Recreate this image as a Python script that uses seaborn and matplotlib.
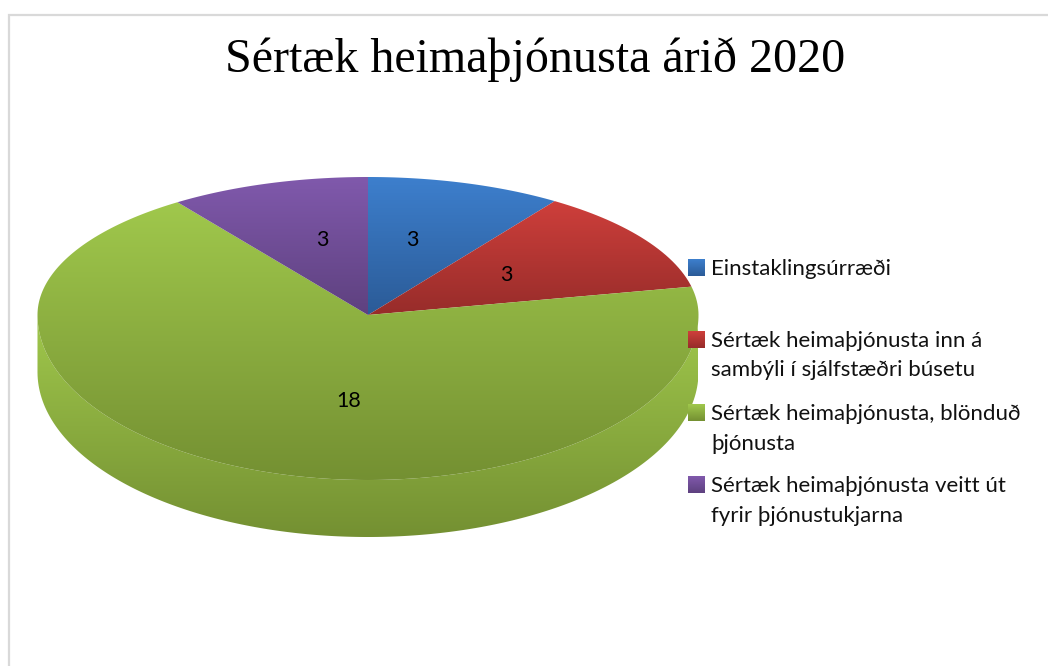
import numpy as np
import matplotlib
matplotlib.use("Agg")
import matplotlib.pyplot as plt
from matplotlib.patches import Polygon
from matplotlib.transforms import Affine2D
import seaborn as sns

# ---- data ----
title = "Sértæk heimaþjónusta árið 2020"
categories = [
    "Einstaklingsúrræði",
    "Sértæk heimaþjónusta inn á\nsambýli í sjálfstæðri búsetu",
    "Sértæk heimaþjónusta, blönduð\nþjónusta",
    "Sértæk heimaþjónusta veitt út\nfyrir þjónustukjarna",
]
values = [3, 3, 18, 3]

# ---- styles / layout (pixel space of the picture) ----
top_colors = ["#3D7FCD", "#CE3F3B", "#A0C84C", "#8059AC"]
bottom_colors = ["#2B5B97", "#972C2A", "#749032", "#5E417F"]
label_xy = [(412, 240), (506, 275), (349, 401), (322, 240)]
legend_y = [267, 339, 412, 484]
CX, CY, RX, RY_BACK, RY_FRONT, DEPTH = 368, 315, 330.5, 138, 165, 57
WARP_A = np.radians(5.28)
WARP_B = np.radians(0.41)

sns.set_theme(style="white")
plt.rcParams["font.family"] = ["Lato", "DejaVu Sans"]

W, H = 1048, 666
fig = plt.figure(figsize=(W / 100, H / 100), dpi=100, facecolor="white")
ax = fig.add_axes([0, 0, 1, 1])

cmaps = [sns.blend_palette([t, b], n_colors=128, as_cmap=True)
         for t, b in zip(top_colors, bottom_colors)]


def project(xy):
    """Tilted-disc projection of a unit pie into picture pixels."""
    r = np.hypot(xy[:, 0], xy[:, 1])
    th = np.arctan2(xy[:, 0], xy[:, 1])       # clockwise from 12 o'clock
    th = th - WARP_A * np.sin(2 * th) - WARP_B * np.sin(2 * th) ** 2
    x = r * np.sin(th)
    y = r * np.cos(th)
    return np.column_stack([CX + RX * x,
                            CY - np.where(y > 0, RY_BACK, RY_FRONT) * y])


def gradient_fill(poly_xy, cmap, zorder):
    patch = Polygon(poly_xy, closed=True, fc="none", ec="none", zorder=zorder)
    ax.add_patch(patch)
    x0, x1 = poly_xy[:, 0].min(), poly_xy[:, 0].max()
    y0, y1 = poly_xy[:, 1].min(), poly_xy[:, 1].max()
    grad = np.linspace(0, 1, 256)[:, None]
    im = ax.imshow(grad, extent=[x0, x1, y1, y0], aspect="auto", cmap=cmap,
                   origin="upper", zorder=zorder, interpolation="bilinear")
    im.set_clip_path(patch)


wedges, _ = ax.pie(values, startangle=90, counterclock=False, radius=1)
outlines = []
for w in wedges:
    poly = w.get_path().transformed(Affine2D().scale(2000)).to_polygons()[0] / 2000
    outlines.append(project(poly))
    w.remove()

# side wall under the biggest slice: only the rim of its front half
green = outlines[int(np.argmax(values))]
rim = np.hypot((green[:, 0] - CX) / RX, (green[:, 1] - CY) / RY_FRONT) > 0.99
front = green[(green[:, 1] >= CY) & rim]
front = front[np.argsort(front[:, 0])]
wall = np.vstack([front, (front + [0, DEPTH])[::-1]])
gradient_fill(wall, cmaps[2], 2)

for i, poly in enumerate(outlines):
    gradient_fill(poly, cmaps[i], 3)

for v, (x, y) in zip(values, label_xy):
    ax.text(x, y, str(v), ha="center", va="center", fontsize=15.5,
            color="black", zorder=5)

# legend
for i, (cat, y) in enumerate(zip(categories, legend_y)):
    grad = np.linspace(0, 1, 64)[:, None]
    ax.imshow(grad, extent=[688, 705, y + 9, y - 8], aspect="auto",
              cmap=cmaps[i], origin="upper", zorder=5)
    for j, line in enumerate(cat.split("\n")):
        ax.text(711, y + j * 29.5, line, ha="left", va="center_baseline",
                fontsize=16, color="#111111", zorder=5)

# chart frame
ax.plot([8.5, 8.5, W], [H, 14.5, 14.5], color="#D9D9D9", lw=1.6, zorder=1,
        solid_joinstyle="miter")

ax.text(535, 72, title, ha="center", va="baseline", fontsize=34.55,
        family=["Liberation Serif"], color="black", zorder=5)

ax.set_xlim(0, W)
ax.set_ylim(H, 0)
ax.set_aspect("auto")
ax.axis("off")
fig.savefig("out.png", dpi=100, facecolor="white")
